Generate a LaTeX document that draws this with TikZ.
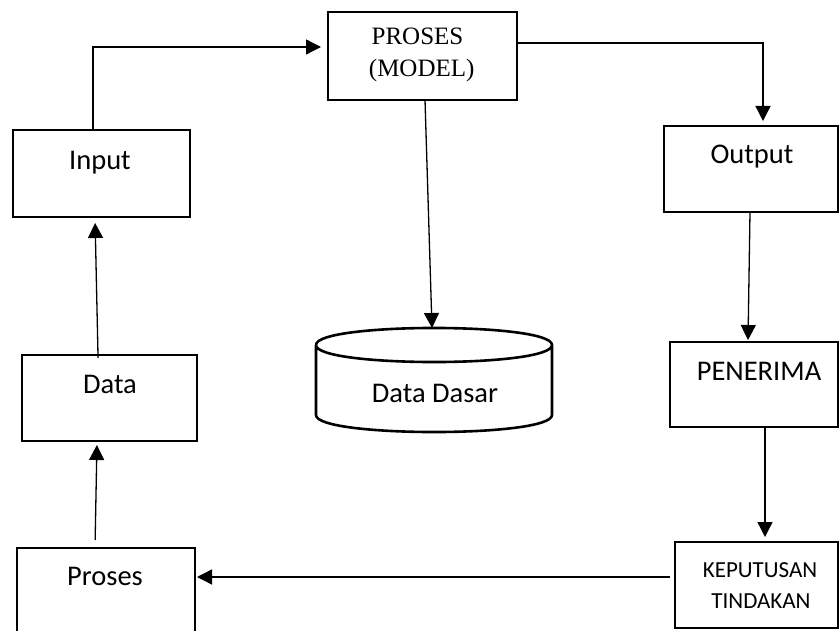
\documentclass[tikz,border=0pt]{standalone}
\usepackage{fontspec}
\newfontfamily\bodyfont{Carlito}
\newfontfamily\modelfont{Liberation Serif}
\usetikzlibrary{arrows.meta}
\begin{document}
\begin{tikzpicture}[x=1pt,y=-1pt,
  box/.style={draw, line width=2.6pt, outer sep=0pt, inner sep=0pt},
  lbl/.style={inner sep=0pt, anchor=base, font=\bodyfont\fontsize{28.5}{34}\selectfont},
  small/.style={inner sep=0pt, anchor=base, font=\bodyfont\fontsize{23}{30}\selectfont},
  serif/.style={inner sep=0pt, anchor=base, font=\modelfont\fontsize{25}{32}\selectfont},
  conn/.style={line width=1.3pt, -{Triangle[length=15pt,width=15pt]}}]
\useasboundingbox[fill=white] (0,0) rectangle (840,631);
\clip (0,0) rectangle (840,631);

% boxes
\node[box, minimum width=189pt, minimum height=88pt] (model)     at (422.5,56)  {};
\node[box, minimum width=177pt, minimum height=87pt] (input)     at (101.5,173.5) {};
\node[box, minimum width=174pt, minimum height=86pt] (output)    at (751,169)   {};
\node[box, minimum width=175pt, minimum height=86pt] (data)      at (109.5,398) {};
\node[box, minimum width=168pt, minimum height=85pt] (penerima)  at (754,384.5) {};
\node[box, minimum width=163pt, minimum height=86pt] (keputusan) at (756.5,585) {};
\node[box, minimum width=178pt, minimum height=112pt] (proses)   at (106,604)   {};

% database cylinder
\draw[line width=2.6pt]
  (316,345) .. controls (316,322.3) and (552,322.3) .. (552,345)
            .. controls (552,367.7) and (316,367.7) .. (316,345)
  (316,345) -- (316,415)
            .. controls (316,437.7) and (552,437.7) .. (552,415)
  -- (552,345);
\coordinate (dbtop) at (432,328);

% labels
\node[serif] (tmodel1) at (417.5,45) {PROSES};
\node[serif] (tmodel2) at (421.7,77) {(MODEL)};
\node[lbl] (tinput)  at (100,170) {Input};
\node[lbl] (toutput) at (752,164) {Output};
\node[lbl] (tdata)   at (110,393) {Data};
\node[lbl] (tdb)     at (435,402) {Data Dasar};
\node[lbl] (tpen)    at (759,380) {PENERIMA};
\node[small] (tkep1) at (760,577) {KEPUTUSAN};
\node[small] (tkep2) at (761,608) {TINDAKAN};
\node[lbl] (tpros)   at (105,585) {Proses};

% connectors
\draw[conn, shorten >=7pt] ([xshift=-8.5pt]input.north) |- ([yshift=9pt]model.west);
\draw[conn, shorten >=5pt] ([yshift=13pt]model.east) -| ([xshift=12pt]output.north);
\draw[conn] ([xshift=2.5pt]model.south) -- (dbtop);
\draw[conn, shorten >=2pt] ([xshift=-1pt]output.south) -- ([xshift=-6pt]penerima.north);
\draw[conn, shorten >=5pt] ([xshift=11pt]penerima.south) -- ([xshift=8.5pt]keputusan.north);
\draw[conn, shorten <=5pt, shorten >=2pt] ([yshift=8pt]keputusan.west) -- ([yshift=27pt]proses.east);
\draw[conn, shorten <=8pt, shorten >=4pt] ([xshift=-11pt]proses.north) -- ([xshift=-12.5pt]data.south);
\draw[conn, shorten <=-3pt, shorten >=6pt] ([xshift=-11.5pt]data.north) -- ([xshift=-6.5pt]input.south);
\end{tikzpicture}
\end{document}
